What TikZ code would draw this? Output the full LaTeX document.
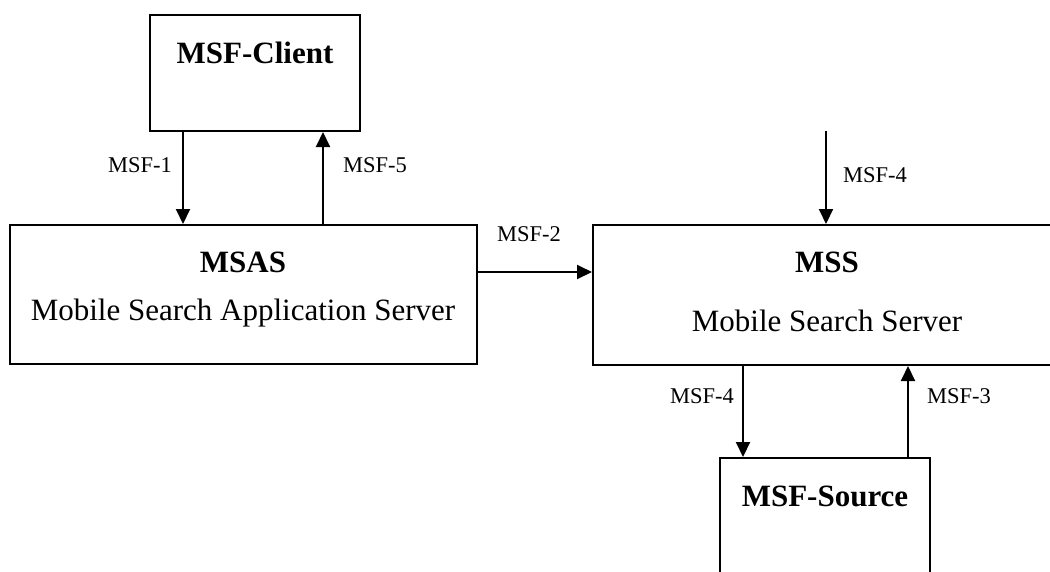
\documentclass[tikz,border=0pt]{standalone}
\usepackage{fontspec}
\setmainfont{Liberation Serif}
\usetikzlibrary{arrows.meta}
\tikzset{
  x=1pt, y=-1pt,
  boxnode/.style={draw, line width=2pt, rectangle, inner sep=0pt},
  titletext/.style={font=\fontsize{31}{36}\selectfont\bfseries, anchor=base, inner sep=0pt},
  subtext/.style={font=\fontsize{31}{36}\selectfont, anchor=base, inner sep=0pt},
  lbl/.style={font=\fontsize{22.5}{26}\selectfont, anchor=base, inner sep=0pt},
  arr/.style={line width=2pt, -{Triangle[length=15pt,width=14pt]}}
}
\begin{document}
\begin{tikzpicture}
\useasboundingbox (0,0) rectangle (1050,571);
\clip (0,0) rectangle (1050,571);
% boxes
\node[boxnode, minimum width=210pt, minimum height=116pt] (client) at (255,73) {};
\node[boxnode, minimum width=467pt, minimum height=139pt] (msas) at (243.5,294.5) {};
\node[boxnode, minimum width=468pt, minimum height=140pt] (mss) at (827,295) {};
\node[boxnode, minimum width=210pt, minimum height=144pt] (source) at (825,530) {};
% texts
\node[titletext] (clientT) at (255,63) {MSF-Client};
\node[titletext] (msasT) at (243,272) {MSAS};
\node[subtext] (msasS) at (243,320) {Mobile Search Application Server};
\node[titletext] (mssT) at (827,272) {MSS};
\node[subtext] (mssS) at (827,331) {Mobile Search Server};
\node[titletext] (sourceT) at (825,506) {MSF-Source};
% connector x positions
\coordinate (c1) at (183,0);
\coordinate (c5) at (323,0);
\coordinate (c2) at (0,272);
\coordinate (top4) at (826,131);
\coordinate (c4) at (743,0);
\coordinate (c3) at (908,0);
% connectors
\draw[arr] (client.south -| c1) -- (msas.north -| c1);
\draw[arr] (msas.north -| c5) -- (client.south -| c5);
\draw[arr] (msas.east |- c2) -- (mss.west |- c2);
\draw[arr] (top4) -- (mss.north -| top4);
\draw[arr] (mss.south -| c4) -- (source.north -| c4);
\draw[arr] (source.north -| c3) -- (mss.south -| c3);
% labels
\node[lbl] (l1) at (140,172) {MSF-1};
\node[lbl] (l5) at (375,172) {MSF-5};
\node[lbl] (l2) at (529,241) {MSF-2};
\node[lbl] (l4a) at (875,182) {MSF-4};
\node[lbl] (l4b) at (702,403) {MSF-4};
\node[lbl] (l3) at (959,403) {MSF-3};
\end{tikzpicture}
\end{document}
